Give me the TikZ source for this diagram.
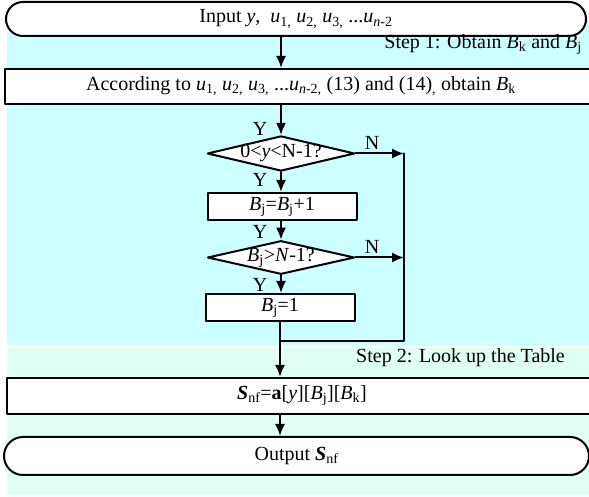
\documentclass[tikz,border=0pt]{standalone}
\usepackage{fontspec}
\setmainfont{Liberation Serif}
\usetikzlibrary{arrows.meta,shapes.geometric}
\definecolor{stepone}{RGB}{204,255,255}
\definecolor{steptwo}{RGB}{224,255,245}
\newcommand{\Bk}{\textit{B}\textsubscript{k}}
\newcommand{\Bj}{\textit{B}\textsubscript{j}}
\newcommand{\Snf}{\textbf{\textit{S}}\textsubscript{nf}}
\newcommand{\uu}[1]{\textit{u}\textsubscript{#1}}
\begin{document}
\begin{tikzpicture}[x=1pt,y=1pt,line cap=round,line join=round,
  font=\fontsize{20pt}{23pt}\selectfont,
  >={Latex[length=12pt,width=10pt]},
  term/.style={draw,line width=2pt,fill=white,rounded corners=17pt,inner sep=0pt},
  proc/.style={draw,line width=2pt,fill=white,inner sep=0pt},
  dec/.style={draw,line width=2pt,fill=white,diamond,aspect=4.2,inner xsep=-4pt,inner ysep=0pt},
  lab/.style={inner sep=1pt}]
  \useasboundingbox (0,0) rectangle (589,497);
  % background of the two steps
  \fill[stepone] (7,152) rectangle (589,479);
  \fill[steptwo] (7,2) rectangle (589,149);
  \node[term,minimum width=580pt,minimum height=34pt] (in) at (296,478)
    {Input \textit{y},\ \ \uu{1,} \uu{2,} \uu{3,} ...\uu{\textit{n}-2}};
  \node[proc,minimum width=592pt,minimum height=35pt] (bk) at (301,410.5)
    {According to \uu{1,} \uu{2,} \uu{3,} ...\uu{\textit{n}-2,} (13) and (14)\textsubscript{,} obtain \Bk};
  \node[dec,minimum width=147pt,minimum height=35pt] (d1) at (281,343.5) {0<\textit{y}<N-1?};
  \node[proc,minimum width=149pt,minimum height=27pt] (inc) at (282,290.5) {\Bj=\Bj+1};
  \node[dec,minimum width=147pt,minimum height=33pt] (d2) at (281,239.5) {\Bj>\textit{N}-1?};
  \node[proc,minimum width=149pt,minimum height=27pt] (reset) at (280,189.5) {\Bj=1};
  \node[proc,minimum width=590pt,minimum height=36pt] (snf) at (302,101)
    {\Snf=\textbf{a}[\textit{y}][\Bj][\Bk]};
  \node[term,rounded corners=19pt,minimum width=585pt,minimum height=38pt] (out) at (296.5,41)
    {Output \Snf};
  \node[lab,anchor=east] (s1) at (583,452) {Step 1: Obtain \Bk\ and \Bj};
  \node[lab,anchor=east] (s2) at (566,139) {Step 2: Look up the Table};
  \coordinate (rtop) at (404,343.5);
  \coordinate (join) at (404,156);
  \draw[line width=2pt,->] (d1 |- in.south) -- (d1 |- bk.north);
  \draw[line width=2pt,->] (d1 |- bk.south) -- (d1.north);
  \draw[line width=2pt,->] (d1.south) -- (d1.south |- inc.north);
  \draw[line width=2pt,->] (inc.south -| d2) -- (d2.north);
  \draw[line width=2pt,->] (d2.south) -- (d2.south |- reset.north);
  \draw[line width=2pt,->] (d1.east) -- (rtop);
  \draw[line width=2pt,->] (d2.east) -- (d2.east -| rtop);
  \draw[line width=2pt] (rtop) -- (join) -- (join -| reset.south);
  \draw[line width=2pt,->] (reset.south) -- (reset.south |- snf.north);
  \draw[line width=2pt,->] (snf.south -| reset) -- (out.north -| reset);
  \node[lab] (y1) at (260,368) {Y};
  \node[lab] (y2) at (260,317) {Y};
  \node[lab] (y3) at (260,265) {Y};
  \node[lab] (y4) at (260,212) {Y};
  \node[lab] (n1) at (372,354) {N};
  \node[lab] (n2) at (372,250) {N};
\end{tikzpicture}
\end{document}
